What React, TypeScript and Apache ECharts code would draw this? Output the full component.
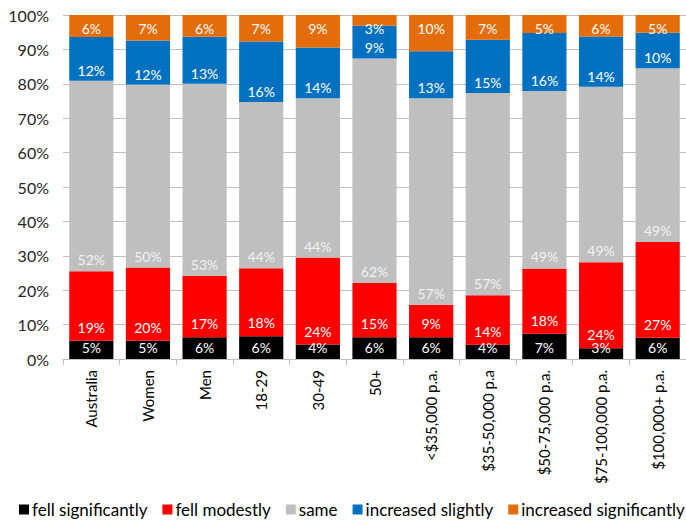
import React, { useEffect, useRef } from "react";
import * as echarts from "echarts";

const categories = [
  "Australia",
  "Women",
  "Men",
  "18-29",
  "30-49",
  "50+",
  "<$35,000 p.a.",
  "$35-50,000 p.a",
  "$50-75,000 p.a.",
  "$75-100,000 p.a.",
  "$100,000+ p.a.",
];

const fellSignificantly = [5, 5, 6, 6, 4, 6, 6, 4, 7, 3, 6];
const fellModestly = [19, 20, 17, 18, 24, 15, 9, 14, 18, 24, 27];
const same = [52, 50, 53, 44, 44, 62, 57, 57, 49, 49, 49];
const increasedSlightly = [12, 12, 13, 16, 14, 9, 13, 15, 16, 14, 10];
const increasedSignificantly = [6, 7, 6, 7, 9, 3, 10, 7, 5, 6, 5];

const yTicks = [0, 10, 20, 30, 40, 50, 60, 70, 80, 90, 100];

const FONT = "Lato, 'Open Sans', sans-serif";

const seriesDefs = [
  { name: "fell significantly", values: fellSignificantly, color: "#000000", labelColor: "#ffffff", pos: "insideBottom", dist: 5 },
  { name: "fell modestly", values: fellModestly, color: "#ff0000", labelColor: "#ffffff", pos: "insideBottom", dist: 7 },
  { name: "same", values: same, color: "#bfbfbf", labelColor: "#f2f2f2", pos: "insideBottom", dist: 5 },
  { name: "increased slightly", values: increasedSlightly, color: "#0070c0", labelColor: "#ffffff", pos: "insideBottom", dist: 4 },
  { name: "increased significantly", values: increasedSignificantly, color: "#e46c0a", labelColor: "#ffffff", pos: "insideTop", dist: 7 },
];

export default function App() {
  const ref = useRef<HTMLDivElement>(null);

  useEffect(() => {
    if (!ref.current) return;
    const chart = echarts.init(ref.current, null, { renderer: "svg" });

    // each bar is scaled to 100% of its answered responses
    const totals = categories.map((_, i) =>
      seriesDefs.reduce((s, d) => s + d.values[i], 0)
    );

    chart.setOption({
      animation: false,
      textStyle: { fontFamily: FONT },
      grid: { left: 63, right: 0, top: 15, bottom: 165, containLabel: false },
      legend: {
        bottom: 1,
        left: 14,
        width: 900,
        itemWidth: 10,
        itemHeight: 10,
        itemGap: 15,
        icon: "rect",
        textStyle: { fontFamily: FONT, fontSize: 17, color: "#000", padding: [0, 0, 0, -2] },
        data: seriesDefs.map((d) => d.name),
      },
      xAxis: {
        type: "category",
        data: categories,
        axisLine: { lineStyle: { color: "#bfbfbf", width: 1 } },
        axisTick: { show: true, length: 6, lineStyle: { color: "#bfbfbf" } },
        axisLabel: {
          rotate: 90,
          interval: 0,
          margin: 11,
          fontSize: 15,
          fontFamily: FONT,
          color: "#000",
        },
      },
      yAxis: {
        type: "value",
        min: yTicks[0],
        max: yTicks[yTicks.length - 1],
        interval: yTicks[1] - yTicks[0],
        axisLine: { show: false },
        axisTick: { show: false },
        axisLabel: {
          formatter: "{value}%",
          fontSize: 16,
          fontFamily: FONT,
          color: "#262626",
          margin: 14,
        },
        splitLine: { lineStyle: { color: "#bfbfbf", width: 1 } },
      },
      series: seriesDefs.map((d) => ({
        name: d.name,
        type: "bar",
        stack: "total",
        barCategoryGap: "22%",
        itemStyle: { color: d.color },
        label: {
          show: true,
          position: d.pos,
          distance: d.dist,
          fontSize: 14,
          lineHeight: 13,
          fontFamily: FONT,
          color: d.labelColor,
          formatter: (p: any) => `${d.values[p.dataIndex]}%`,
        },
        data: d.values.map((v, i) => (v / totals[i]) * 100),
      })),
    });

    return () => chart.dispose();
  }, []);

  return (
    <div
      ref={ref}
      style={{ position: "fixed", left: 0, top: 0, width: 686, height: 524, background: "#fff" }}
    />
  );
}
